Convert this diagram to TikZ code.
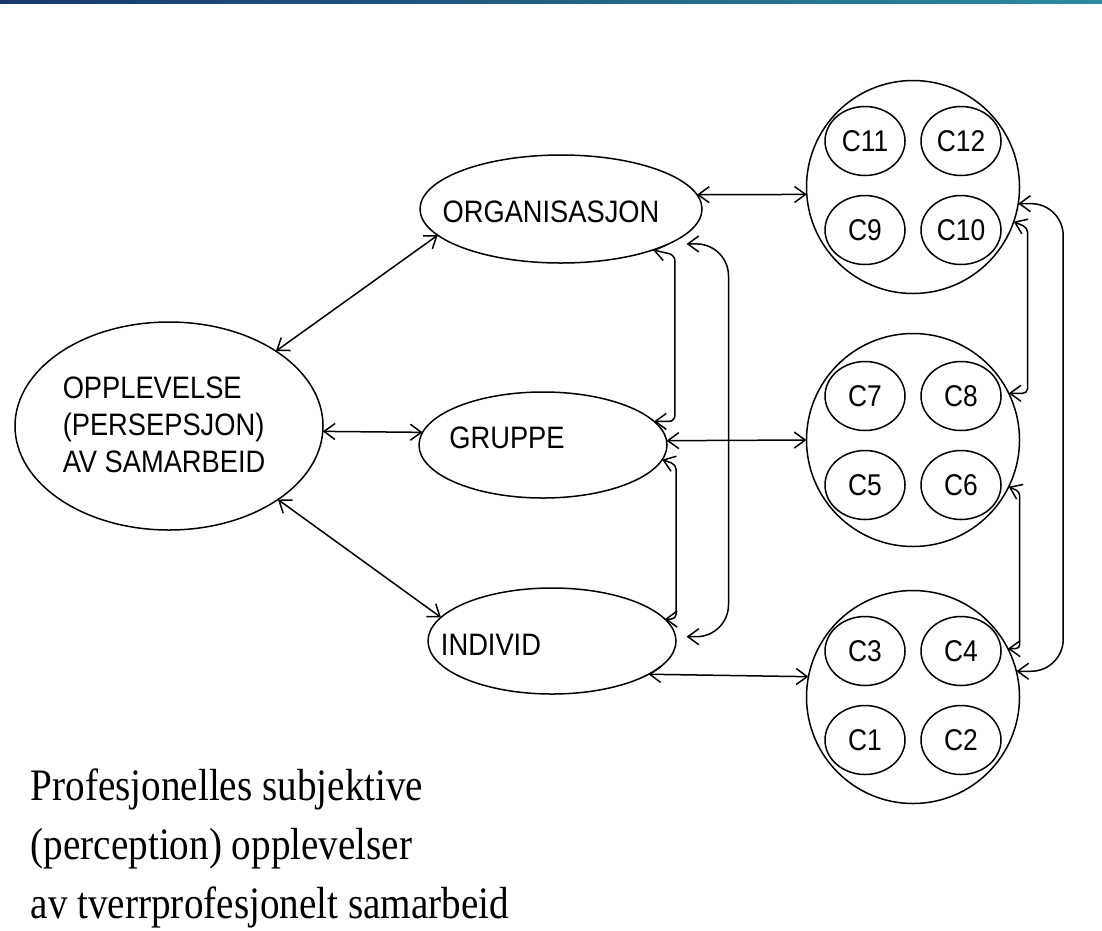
\documentclass[tikz,border=0pt]{standalone}
\usepackage{fontspec}
\setmainfont{Liberation Serif}[FakeStretch=0.87]
\setsansfont{Liberation Sans}[FakeStretch=0.88]
\usetikzlibrary{shapes.geometric,arrows.meta}
\definecolor{barleft}{RGB}{22,56,110}
\definecolor{barright}{RGB}{46,138,162}
\tikzset{barb/.tip={Straight Barb[length=11pt,width=16pt]}}

\begin{document}
\begin{tikzpicture}
  [x=1pt,y=-1pt,line width=1.5pt,
   oval/.style={ellipse,draw,inner sep=0pt,outer sep=0pt},
   ring/.style={circle,draw,minimum size=213pt,inner sep=0pt,outer sep=0pt},
   cell/.style={oval,minimum width=80pt,minimum height=69pt,
     font=\sffamily\fontsize{30}{36}\selectfont},
   word/.style={font=\sffamily\fontsize{31}{37}\selectfont,inner sep=0pt,anchor=base},
   link/.style={barb-barb}]
  \useasboundingbox (0,0) rectangle (1102,930);
  \shade[left color=barleft,right color=barright] (0,0) rectangle (1102,3);

  \node[oval,minimum width=308pt,minimum height=208pt] (opp) at (169,426) {};
  \node[word,anchor=west,align=left] (oppt) at (62,425)
    {OPPLEVELSE\\(PERSEPSJON)\\AV SAMARBEID};
  \node[oval,minimum width=282pt,minimum height=108pt] (org) at (561,209) {};
  \node[word] (orgt) at (551,222) {ORGANISASJON};
  \node[oval,minimum width=248pt,minimum height=106pt] (grp) at (543,445) {};
  \node[word] (grpt) at (507,448) {GRUPPE};
  \node[oval,minimum width=248pt,minimum height=106pt] (ind) at (552,641) {};
  \node[word] (indt) at (491,655) {INDIVID};

  \node[ring] (ctop) at (913,187) {};
  \node[ring] (cmid) at (913,440) {};
  \node[ring] (cbot) at (913,697) {};

  \node[cell] (c11) at ([shift={(-48,-46)}]ctop) {C11};
  \node[cell] (c12) at ([shift={(48,-46)}]ctop)  {C12};
  \node[cell] (c9)  at ([shift={(-48,43)}]ctop)  {C9};
  \node[cell] (c10) at ([shift={(48,43)}]ctop)   {C10};
  \node[cell] (c7)  at ([shift={(-48,-44)}]cmid) {C7};
  \node[cell] (c8)  at ([shift={(48,-44)}]cmid)  {C8};
  \node[cell] (c5)  at ([shift={(-48,45)}]cmid)  {C5};
  \node[cell] (c6)  at ([shift={(48,45)}]cmid)   {C6};
  \node[cell] (c3)  at ([shift={(-48,-46)}]cbot) {C3};
  \node[cell] (c4)  at ([shift={(48,-46)}]cbot)  {C4};
  \node[cell] (c1)  at ([shift={(-48,43)}]cbot)  {C1};
  \node[cell] (c2)  at ([shift={(48,43)}]cbot)   {C2};

  \path[link]
    (opp.35)  edge (org.192)
    (opp.-2)  edge (grp.174)
    (opp.-34) edge (ind.168)
    (org.6)   edge (ctop.184)
    (grp.2)   edge (cmid.180)
    (ind.-19) edge (cbot.169);

  \draw[link,rounded corners=6pt] (org.-24) -- ++(22,5) |- (grp.12);
  \draw[link,rounded corners=5pt] (grp.-7) -- ++(14,5) |- (ind.11);
  \draw[link,rounded corners=32pt] ([xshift=18pt]org.-18) -- ++(42,0) |- ([xshift=11pt]ind.2);
  \draw[link,rounded corners=5pt] (ctop.-19) -- ++(14,6) |- (cmid.26);
  \draw[link,rounded corners=4pt] (cmid.-26) -- ++(11,5) |- (cbot.27);
  \draw[link,rounded corners=32pt] (ctop.-9) -- ++(45,0) |- (cbot.14);

  \node[font=\fontsize{45}{59}\selectfont,align=left,anchor=west,inner sep=0pt] (note) at (30,848)
    {Profesjonelles subjektive\\(perception) opplevelser\\av tverrprofesjonelt samarbeid};
\end{tikzpicture}
\end{document}
